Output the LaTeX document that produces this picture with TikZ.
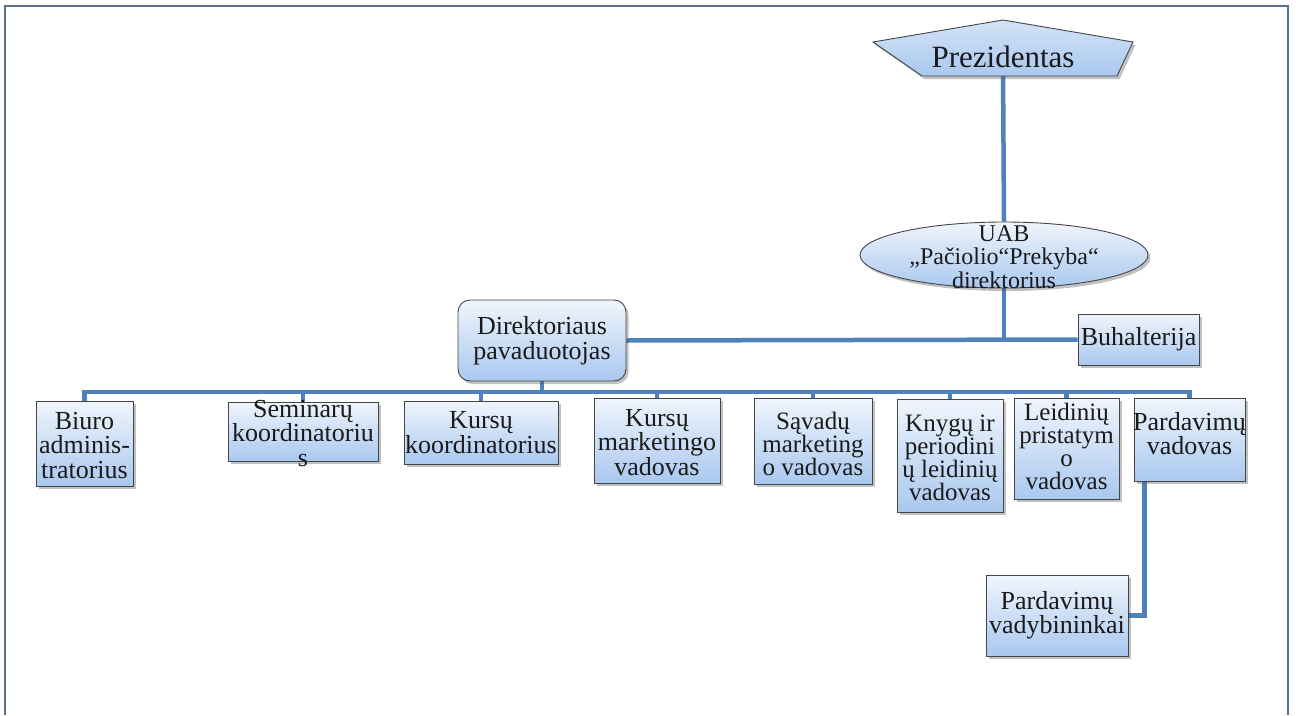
\documentclass[tikz,border=0pt]{standalone}
\usepackage{fontspec}
\setmainfont{Liberation Serif}
\usetikzlibrary{shapes.geometric,shadows,calc,backgrounds}
\definecolor{linkblue}{HTML}{4F81BD}
\definecolor{boxedge}{HTML}{454545}
\definecolor{boxtop}{HTML}{F0F5FC}
\definecolor{boxbottom}{HTML}{A9C8EF}
\definecolor{framecol}{HTML}{5B6F8E}
\definecolor{textdark}{HTML}{1A1A1A}
\begin{document}
\begin{tikzpicture}[x=1pt,y=-1pt,
  link/.style={draw=linkblue, line width=4.5pt},
  boxshadow/.style={drop shadow={shadow xshift=2.5pt, shadow yshift=-3pt, opacity=0.35, fill=black!70}},
  orgbox/.style={rectangle, draw=boxedge, line width=0.9pt, top color=boxtop, bottom color=boxbottom, inner sep=0pt, boxshadow},
  boxtext/.style={font=\fontsize{26}{24.5}\selectfont, align=center, inner sep=0pt, text=textdark},
  tighttext/.style={boxtext, font=\fontsize{25}{23}\selectfont},
]
\useasboundingbox (0,0) rectangle (1296,715);

% outer frame, open at the bottom
\draw[framecol, line width=2.5pt] (5,715) -- (5,6) -- (1288,6) -- (1288,715);

% president: pentagon banner
\path[draw=boxedge, line width=0.9pt, top color=boxtop!60!boxbottom, bottom color=boxbottom, boxshadow]
  (1003,20) -- (1133,42) -- (1117,76) -- (922,76) -- (873,42) -- cycle;
\node[anchor=base, inner sep=0pt, text=textdark, font=\fontsize{31}{33}\selectfont] (prez) at (1003,67) {Prezidentas};

% director
\node[ellipse, draw=boxedge, line width=0.9pt, top color=boxtop, bottom color=boxbottom, inner sep=0pt,
      minimum width=288pt, minimum height=66pt, boxshadow] (uab) at (1004,255) {};
\node[boxtext, font=\fontsize{24}{23.5}\selectfont] at ($(uab.center)+(0,2)$) {UAB\\„Pačiolio“Prekyba“\\direktorius};

% deputy and accounting
\node[orgbox, rounded corners=12pt, minimum width=168pt, minimum height=81pt] (dir) at (542,340.5) {};
\node[boxtext] at (dir.center) {Direktoriaus\\pavaduotojas};
\node[orgbox, minimum width=121pt, minimum height=51pt] (buh) at (1138.5,339.5) {};
\node[boxtext] at (buh.center) {Buhalterija};

% departments
\node[orgbox, minimum width=97pt, minimum height=85pt] (biuro) at (84.5,443.5) {};
\node[boxtext] at ($(biuro.center)+(0,2)$) {Biuro\\adminis-\\tratorius};
\node[orgbox, minimum width=150pt, minimum height=59pt] (sem) at (303,431.5) {};
\node[boxtext] at ($(sem.center)+(0,2)$) {Seminarų\\koordinatoriu\\s};
\node[orgbox, minimum width=154pt, minimum height=63pt] (kursk) at (481,432.5) {};
\node[boxtext] at (kursk.center) {Kursų\\koordinatorius};
\node[orgbox, minimum width=126pt, minimum height=85pt] (kursm) at (657,440.5) {};
\node[boxtext] at ($(kursm.center)+(0,2)$) {Kursų\\marketingo\\vadovas};
\node[orgbox, minimum width=118pt, minimum height=86pt] (savad) at (813,441) {};
\node[tighttext] at ($(savad.center)+(0,3)$) {Sąvadų\\marketing\\o vadovas};
\node[orgbox, minimum width=106pt, minimum height=113pt] (knyg) at (950,455.5) {};
\node[tighttext] at ($(knyg.center)+(0,2)$) {Knygų ir\\periodini\\ų leidinių\\vadovas};
\node[orgbox, minimum width=105pt, minimum height=101pt] (leid) at (1066.5,448.5) {};
\node[tighttext] at ($(leid.center)+(0,-2)$) {Leidinių\\pristatym\\o\\vadovas};
\node[orgbox, minimum width=111pt, minimum height=83pt] (pard) at (1189.5,439.5) {};
\node[tighttext, font=\fontsize{26}{23}\selectfont] at ($(pard.center)+(0,-6)$) {Pardavimų\\vadovas};
\node[orgbox, minimum width=142pt, minimum height=81pt] (vadyb) at (1057,615.5) {};
\node[boxtext] at (vadyb.center) {Pardavimų\\vadybininkai};

% connectors
\begin{scope}[on background layer]
  \coordinate (bus) at (0,392);
  \coordinate (pdrop) at ($(pard.south west)+(11,0)$);
  \draw[link] (prez.south) -- (uab.north);
  \draw[link] (uab.south) -- (uab.south |- dir.east);
  \draw[link] (dir.east) -- (buh.west);
  \draw[link] (dir.south) -- (dir.south |- bus);
  \draw[link] (biuro.north) -- (biuro.north |- bus) -- (pard.north |- bus) -- (pard.north);
  \draw[link] (sem.north) -- (sem.north |- bus);
  \draw[link] (kursk.north) -- (kursk.north |- bus);
  \draw[link] (kursm.north) -- (kursm.north |- bus);
  \draw[link] (savad.north) -- (savad.north |- bus);
  \draw[link] (knyg.north) -- (knyg.north |- bus);
  \draw[link] (leid.north) -- (leid.north |- bus);
  \draw[link] (pdrop) |- (vadyb.east);
\end{scope}
\end{tikzpicture}
\end{document}
